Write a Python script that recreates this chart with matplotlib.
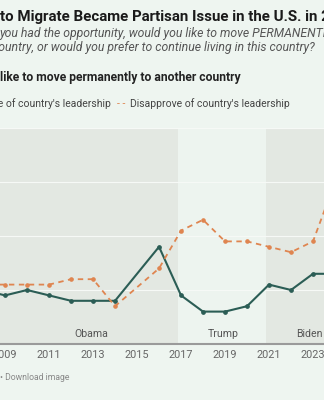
import numpy as np
import matplotlib.pyplot as plt

# % who would like to move permanently to another country (U.S.)
years = [2008, 2009, 2010, 2011, 2012, 2013, 2014, 2016, 2017, 2018, 2019, 2020, 2021, 2022, 2023, 2024]
approve = [10, 9, 10, 9, 8, 8, 8, 18, 9, 6, 6, 7, 11, 10, 13, 13]
disapprove = [11, 11, 11, 11, 12, 12, 7, 14, 21, 23, 19, 19, 18, 17, 19, 30]

terms = ['Obama', 'Trump', 'Biden']
term_start = [2008.0, 2016.87, 2020.87]
term_end = [2016.87, 2020.87, 2025.0]
term_label_x = [2012.9, 2018.9, 2022.85]
y_ticks = [0, 10, 20, 30, 40]

bg = '#eef5f0'
teal = '#2b5d55'
orange = '#df8550'
band_cols = ['#e3e8e2', '#edf4ef', '#e3e8e2']

plt.rcParams['font.family'] = ['Roboto', 'DejaVu Sans']

fig = plt.figure(figsize=(3.24, 4.0), dpi=100, facecolor=bg)

# axes spans the whole width; the picture is a crop of a wider chart
ax = fig.add_axes([0, 0.14, 1, 0.54])
ax.set_facecolor(bg)
ax.set_xlim(2008.77, 2023.5)
ax.set_ylim(0, 40)

for i in range(len(terms)):
    ax.axvspan(term_start[i], term_end[i], color=band_cols[i], zorder=0, lw=0)
    ax.text(term_label_x[i], 1.0, terms[i], ha='center', va='bottom', fontsize=7.6, color='#555555')

for t in y_ticks[1:]:
    ax.axhline(t, color='#f6f9f6', lw=0.8, zorder=1)

ax.plot(years, approve, color=teal, lw=1.5, marker='o', ms=2.4, zorder=3)
ax.plot(years, disapprove, color=orange, lw=1.3, ls=(0, (3, 2.5)), marker='o', ms=2.3, zorder=3)

for sp in ['top', 'right', 'left']:
    ax.spines[sp].set_visible(False)
ax.spines['bottom'].set_color('#9a9a9a')
ax.spines['bottom'].set_linewidth(1.5)
ax.set_yticks([])
ax.set_xticks(range(2009, 2024, 2))
ax.tick_params(axis='x', length=0, labelsize=7.8, labelcolor='#666666', pad=4)

# header texts (cropped at the left and right edges)
fig.text(0, 1 - 17 / 400, 'Desire ', ha='right', va='center', fontsize=10.8, fontweight='bold', color='#1a1a1a')
fig.text(0, 1 - 17 / 400, 'to Migrate Became Partisan Issue in the U.S. in 2024',
         ha='left', va='center', fontsize=10.8, fontweight='bold', color='#1a1a1a')
fig.text(0, 1 - 33 / 400, 'you had the opportunity, would you like to move PERMANENTLY to another',
         ha='left', va='center', fontsize=8.8, style='italic', color='#555555')
fig.text(-0.025, 1 - 48 / 400, 'country, or would you prefer to continue living in this country?',
         ha='left', va='center', fontsize=8.8, style='italic', color='#555555')
fig.text(0, 1 - 77 / 400, 'like to move permanently to another country',
         ha='left', va='center', fontsize=8.7, fontweight='bold', color='#222222')

fig.text(-0.143, 1 - 104 / 400, '\u2014 Approve of country\'s leadership',
         ha='left', va='center', fontsize=7.5, color='#444444')
fig.text(0.36, 1 - 104 / 400, '- -', ha='left', va='center', fontsize=7.5, color=orange)
fig.text(0.40, 1 - 104 / 400, 'Disapprove of country\'s leadership',
         ha='left', va='center', fontsize=7.5, color='#444444')

fig.text(0, 1 - 378 / 400, '\u2022 Download image', ha='left', va='center', fontsize=6.2, color='#888888')

fig.savefig('out.png', dpi=100, facecolor=bg)
